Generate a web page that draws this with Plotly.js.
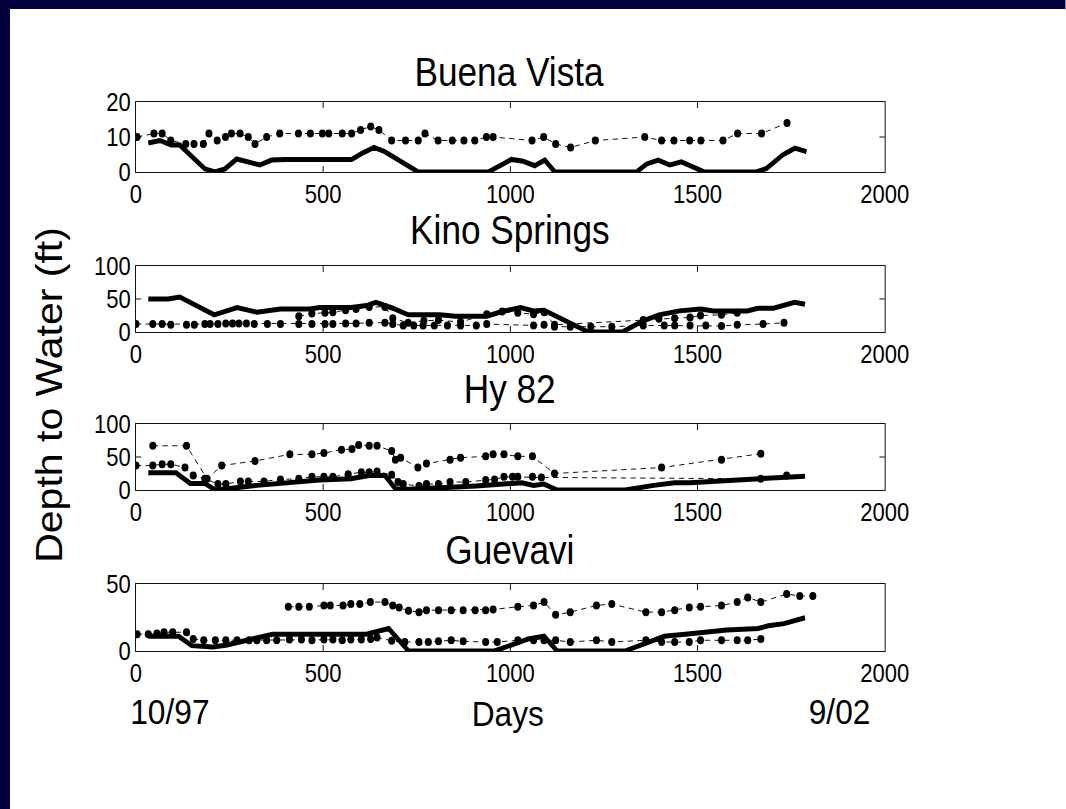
<!DOCTYPE html>
<html>
<head>
<meta charset="utf-8">
<script src="https://cdn.plot.ly/plotly-3.0.1.min.js"></script>
<style>
  html, body { margin: 0; padding: 0; background: #ffffff; overflow: hidden; }
  #chart { height: 809px; transform-origin: 0 0; }
</style>
</head>
<body>
<div id="chart"></div>
<script>
// ---- Buena Vista ----
const bvSimDays  = [33, 64, 94, 117, 184, 211, 238, 269, 331, 362, 398, 576, 603, 636, 665, 700, 754, 941, 967, 1003, 1034, 1065, 1092, 1119, 1337, 1364, 1395, 1426, 1457, 1488, 1519, 1657, 1684, 1728, 1760, 1791];
const bvSimDepth = [8.3, 9, 7.7, 7.7, 0.9, 0, 0.9, 3.7, 2, 3.4, 3.6, 3.6, 5.3, 7, 5.8, 3.4, 0, 0, 1.6, 3.6, 3.1, 1.8, 3.4, 0, 0, 2.3, 3.4, 2, 2.9, 1.6, 0, 0, 1, 4.9, 6.8, 5.8];
const bvObsDays  = [3, 48, 70, 93, 133, 155, 180, 195, 217, 239, 255, 278, 300, 318, 349, 384, 434, 466, 498, 515, 551, 576, 600, 627, 649, 683, 720, 754, 772, 807, 845, 876, 905, 936, 954, 1058, 1089, 1121, 1161, 1227, 1359, 1404, 1437, 1479, 1509, 1568, 1607, 1671, 1739];
const bvObsDepth = [10, 11, 11, 9, 8, 8, 8, 11, 9, 10, 11, 11, 10, 8, 10, 11, 11, 11, 11, 11, 11, 11, 12, 13, 12, 9, 9, 9, 11, 9, 9, 9, 9, 10, 10, 9, 10, 8, 7, 9, 10, 9, 9, 9, 9, 9, 11, 11, 14];

// ---- Kino Springs ----
const kinoSimDays  = [33, 86, 117, 170, 209, 270, 323, 386, 463, 491, 575, 616, 641, 686, 727, 811, 853, 937, 978, 1027, 1062, 1090, 1160, 1208, 1299, 1355, 1397, 1418, 1452, 1508, 1543, 1633, 1661, 1703, 1759, 1787];
const kinoSimDepth = [50, 50, 53, 38, 26, 37, 30, 35, 35, 37, 37, 40, 45, 36, 26, 26, 24, 24, 31, 37, 32, 33, 14, 0, 0, 17, 26, 29, 32, 35, 32, 32, 36, 36, 45, 42];
const kinoObsLowDays  = [0, 45, 70, 93, 135, 156, 184, 198, 219, 240, 258, 275, 295, 316, 351, 386, 435, 470, 505, 526, 560, 588, 623, 665, 686, 714, 742, 767, 797, 832, 867, 909, 937, 1062, 1090, 1118, 1160, 1215, 1271, 1355, 1411, 1439, 1480, 1522, 1564, 1606, 1675, 1731];
const kinoObsLowDepth = [12, 12, 12, 11, 11, 11, 12, 12, 12, 13, 13, 13, 13, 12, 12, 12, 12, 12, 12, 12, 13, 13, 14, 14, 12, 10, 10, 10, 10, 10, 10, 10, 12, 10, 11, 8, 8, 8, 8, 10, 10, 10, 10, 10, 9, 11, 12, 14];
const kinoObsHighDays  = [435, 470, 505, 526, 560, 588, 623, 665, 686, 727, 769, 808, 867, 937, 978, 1020, 1062, 1090, 1118, 1355, 1397, 1439, 1480, 1508, 1564, 1606];
const kinoObsHighDepth = [24, 28, 29, 30, 33, 35, 38, 38, 21, 14, 17, 18, 15, 27, 31, 29, 27, 30, 11, 18, 20, 21, 22, 25, 26, 29];

// ---- Hy 82 ----
const hySimDays  = [33, 107, 145, 184, 212, 323, 491, 574, 623, 665, 693, 728, 909, 1006, 1031, 1062, 1090, 1125, 1306, 1383, 1439, 1480, 1550, 1634, 1703, 1787];
const hySimDepth = [26, 26, 10, 10, 0, 7, 15, 17, 22, 22, 2, 1, 6, 11, 11, 7, 9, 0, 0, 7, 11, 11, 13, 15, 17, 21];
const hyObsHighDays  = [45, 135, 190, 229, 318, 411, 470, 502, 549, 577, 595, 623, 644, 683, 693, 707, 753, 776, 839, 867, 934, 954, 983, 1020, 1059, 1118, 1404, 1564, 1669];
const hyObsHighDepth = [67, 67, 17, 37, 44, 54, 54, 56, 61, 62, 68, 67, 67, 59, 46, 49, 34, 40, 46, 49, 51, 54, 54, 51, 51, 25, 34, 46, 55];
const hyObsLowDays  = [0, 45, 70, 93, 131, 153, 184, 219, 240, 279, 300, 342, 386, 435, 470, 502, 526, 567, 602, 623, 644, 683, 700, 714, 756, 776, 808, 839, 881, 934, 958, 983, 1006, 1020, 1059, 1083, 1669, 1738];
const hyObsLowDepth = [37, 37, 39, 39, 34, 22, 17, 9, 9, 13, 13, 13, 16, 17, 20, 20, 20, 24, 27, 27, 28, 23, 12, 9, 6, 9, 9, 12, 12, 15, 16, 20, 20, 20, 20, 19, 17, 22];

// ---- Guevavi ----
const guSimDays  = [33, 114, 149, 205, 240, 289, 323, 365, 616, 644, 675, 728, 958, 1006, 1048, 1090, 1125, 1306, 1355, 1411, 1467, 1522, 1578, 1662, 1689, 1731, 1787];
const guSimDepth = [11, 11, 4, 3, 4.3, 7.2, 10, 12.5, 12.5, 14.4, 16.8, 0, 0, 4.8, 9, 11, 0, 0, 4.8, 11, 12.5, 14.4, 15.6, 16.8, 18.8, 20.4, 24.8];
const guObsHighDays  = [407, 435, 463, 502, 519, 553, 574, 598, 626, 665, 686, 703, 728, 756, 776, 808, 842, 874, 906, 934, 954, 1020, 1062, 1090, 1121, 1160, 1230, 1271, 1362, 1404, 1439, 1478, 1508, 1564, 1606, 1634, 1669, 1738, 1773, 1808];
const guObsHighDepth = [33, 33, 33, 34, 34, 34, 35, 35, 36.5, 36.5, 34, 32.5, 30, 29, 30.5, 30.5, 30.5, 30.5, 30.5, 30.5, 31, 33, 34, 36.5, 27, 29, 34, 35, 29, 29, 30.5, 32.5, 33, 34, 36.5, 40, 36.5, 42.5, 41, 41];
const guObsLowDays  = [3, 33, 56, 75, 98, 135, 153, 181, 212, 240, 270, 302, 323, 349, 376, 410, 442, 470, 502, 526, 551, 574, 602, 627, 644, 683, 718, 756, 781, 808, 842, 874, 934, 965, 1020, 1062, 1090, 1121, 1160, 1230, 1271, 1362, 1404, 1439, 1478, 1508, 1564, 1606, 1634, 1669];
const guObsLowDepth = [12.5, 12.5, 13, 14, 14, 14, 9, 8, 8, 8, 8, 8, 8, 8, 8, 8.5, 8.5, 8, 8.5, 8.5, 8, 8.5, 8.5, 9, 10, 7.7, 6.7, 6.7, 6.7, 7.2, 8, 7.2, 6.7, 6.7, 8, 8, 8, 8, 6.7, 8, 6.7, 8, 6.7, 6.7, 6.7, 8, 8, 8, 8, 9];

const panelTitles = ['Buena Vista', 'Kino Springs', 'Hy 82', 'Guevavi'];
const yRanges = [[0, 20], [0, 100], [0, 100], [0, 50]];
const yTicks  = [[0, 10, 20], [0, 50, 100], [0, 50, 100], [0, 50]];
const xTicks  = [0, 500, 1000, 1500, 2000];

// The figure is laid out wider and squeezed horizontally, giving the
// tall, narrow lettering of the original slide.
const SQUEEZE = 0.88;
const W = 1066, H = 809;
const WL = W / SQUEEZE;
const FONT = '"Liberation Sans", Arial, Helvetica, sans-serif';

const chartDiv = document.getElementById('chart');
chartDiv.style.width = WL + 'px';
chartDiv.style.transform = 'scaleX(' + SQUEEZE + ')';

// pixel bands of each panel (top, bottom) and title centres
const bands = [[102, 172], [266, 332], [424, 490], [584, 651]];
const titleY = [72, 230, 389, 550];
const xDom = [136 / W, 885 / W];

function ax(k) { return k === 1 ? '' : String(k); }
function simTrace(x, y, k) {
  return { x, y, xaxis: 'x' + ax(k), yaxis: 'y' + ax(k),
    mode: 'lines', line: { color: '#000', width: 5 }, hoverinfo: 'skip', showlegend: false };
}
function obsTrace(x, y, k) {
  return { x, y, xaxis: 'x' + ax(k), yaxis: 'y' + ax(k),
    mode: 'lines+markers', line: { color: '#000', width: 1, dash: '6px,5px' },
    marker: { color: '#000', size: 8 }, hoverinfo: 'skip', showlegend: false };
}

const traces = [
  obsTrace(bvObsDays, bvObsDepth, 1),
  simTrace(bvSimDays, bvSimDepth, 1),
  obsTrace(kinoObsLowDays, kinoObsLowDepth, 2),
  obsTrace(kinoObsHighDays, kinoObsHighDepth, 2),
  simTrace(kinoSimDays, kinoSimDepth, 2),
  obsTrace(hyObsHighDays, hyObsHighDepth, 3),
  obsTrace(hyObsLowDays, hyObsLowDepth, 3),
  simTrace(hySimDays, hySimDepth, 3),
  obsTrace(guObsHighDays, guObsHighDepth, 4),
  obsTrace(guObsLowDays, guObsLowDepth, 4),
  simTrace(guSimDays, guSimDepth, 4)
];

const layout = {
  width: WL, height: H,
  margin: { l: 0, r: 0, t: 0, b: 0 },
  paper_bgcolor: '#ffffff', plot_bgcolor: '#ffffff',
  font: { family: FONT, color: '#000', size: 24 },
  showlegend: false,
  annotations: [],
  shapes: [
    // navy frame along the top and left edges
    { type: 'rect', xref: 'paper', yref: 'paper', x0: 0, x1: 10 / W, y0: 0, y1: 1,
      fillcolor: '#03003f', line: { width: 0 }, layer: 'below' },
    { type: 'rect', xref: 'paper', yref: 'paper', x0: 0, x1: 1, y0: 1 - 9 / H, y1: 1,
      fillcolor: '#03003f', line: { width: 0 }, layer: 'below' }
  ]
};

bands.forEach((b, i) => {
  const k = i + 1;
  const s = ax(k);
  const common = {
    ticks: 'inside', ticklen: 6, tickwidth: 1, tickcolor: '#000',
    showline: true, linecolor: '#000', linewidth: 1, mirror: 'ticks',
    showgrid: false, zeroline: false, fixedrange: true,
    tickfont: { family: FONT, size: 25, color: '#000' }
  };
  layout['xaxis' + s] = Object.assign({
    domain: xDom, range: [0, 2000], anchor: 'y' + s,
    tickvals: xTicks, ticktext: xTicks.map(String)
  }, common);
  layout['yaxis' + s] = Object.assign({
    domain: [1 - b[1] / H, 1 - b[0] / H], range: yRanges[i], anchor: 'x' + s,
    tickvals: yTicks[i], ticktext: yTicks[i].map(String)
  }, common);
  layout.annotations.push({
    xref: 'paper', yref: 'paper', x: 510 / W, y: 1 - titleY[i] / H,
    xanchor: 'center', yanchor: 'middle', showarrow: false,
    text: panelTitles[i], font: { family: FONT, size: 40, color: '#000' }
  });
});

layout.annotations.push(
  { xref: 'paper', yref: 'paper', x: 50 / W, y: 1 - 395 / H, textangle: -90,
    xanchor: 'center', yanchor: 'middle', showarrow: false,
    text: 'Depth to Water (ft)', font: { family: FONT, size: 41, color: '#000' } },
  { xref: 'paper', yref: 'paper', x: 170 / W, y: 1 - 711 / H,
    xanchor: 'center', yanchor: 'middle', showarrow: false,
    text: '10/97', font: { family: FONT, size: 36, color: '#000' } },
  { xref: 'paper', yref: 'paper', x: 508 / W, y: 1 - 713 / H,
    xanchor: 'center', yanchor: 'middle', showarrow: false,
    text: 'Days', font: { family: FONT, size: 36, color: '#000' } },
  { xref: 'paper', yref: 'paper', x: 840 / W, y: 1 - 711 / H,
    xanchor: 'center', yanchor: 'middle', showarrow: false,
    text: '9/02', font: { family: FONT, size: 36, color: '#000' } }
);

Plotly.newPlot('chart', traces, layout, { staticPlot: true, displayModeBar: false });
</script>
</body>
</html>
